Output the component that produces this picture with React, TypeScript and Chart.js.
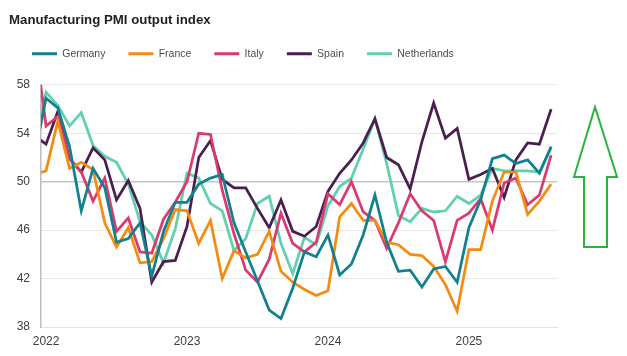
import React, { useEffect, useRef } from 'react';
import { Chart, registerables } from 'chart.js';

Chart.register(...registerables);

// Months: index 0 = Dec 2021 (partly outside the plot), then Jan 2022 ... Aug 2025
const monthLabels: string[] = [];
for (let i = 0; i < 45; i++) {
  const total = 2021 * 12 + 11 + i;
  monthLabels.push(`${Math.floor(total / 12)}-${String((total % 12) + 1).padStart(2, '0')}`);
}

const yearTickMonths = [0, 12, 24, 36];
const yearTickLabels = ['2022', '2023', '2024', '2025'];
const yTickValues = [38, 42, 46, 50, 54, 58];

const germany = [52.0, 56.9, 56.1, 52.9, 47.6, 51.1, 49.5, 45.0, 45.3, 46.6, 42.2, 45.9, 48.3, 48.3, 49.8, 50.3, 50.6, 46.6, 44.2, 41.8, 39.4, 38.7, 41.2, 44.2, 43.8, 45.6, 42.3, 43.2, 45.6, 48.9, 45.0, 42.6, 42.7, 41.3, 42.8, 43.0, 41.7, 46.2, 48.5, 51.9, 52.2, 51.5, 51.8, 50.7, 52.9];
const france = [50.6, 50.9, 55.0, 51.1, 51.6, 51.0, 46.6, 44.6, 46.2, 43.3, 43.4, 45.3, 47.7, 47.6, 44.9, 46.8, 42.0, 44.3, 43.7, 44.0, 45.9, 42.6, 41.7, 41.1, 40.6, 41.0, 47.1, 48.2, 46.8, 46.8, 45.0, 44.8, 44.0, 43.9, 43.0, 41.5, 39.3, 44.4, 44.4, 48.4, 50.8, 50.8, 47.3, 48.4, 49.8];
const italy = [62.0, 54.6, 55.4, 51.9, 50.8, 48.4, 50.3, 45.9, 47.0, 44.2, 44.1, 46.9, 48.3, 50.0, 54.0, 53.9, 49.3, 45.7, 42.7, 41.7, 43.6, 47.4, 44.9, 44.2, 45.0, 49.0, 48.1, 50.0, 47.5, 46.8, 44.5, 46.6, 49.0, 47.6, 46.8, 43.4, 46.8, 47.4, 48.6, 46.0, 49.9, 50.3, 48.1, 48.9, 52.2];
const spain = [53.8, 53.1, 55.8, 51.9, 50.8, 52.8, 51.8, 48.5, 50.1, 47.8, 41.7, 43.4, 43.5, 46.3, 52.0, 53.4, 50.2, 49.5, 49.5, 47.8, 46.2, 48.5, 45.9, 45.5, 46.3, 49.2, 50.7, 51.8, 53.2, 55.2, 52.0, 51.4, 49.4, 53.3, 56.5, 53.6, 54.4, 50.2, 50.6, 51.1, 48.7, 51.8, 53.2, 53.1, 56.0];
const netherlands = [53.2, 57.4, 56.3, 54.6, 55.7, 53.0, 52.1, 51.6, 49.8, 46.7, 45.6, 43.3, 46.1, 50.7, 50.3, 48.2, 47.6, 44.3, 45.3, 48.2, 48.8, 44.9, 42.4, 45.4, 44.8, 48.0, 49.6, 50.3, 52.7, 55.2, 51.5, 47.2, 46.7, 47.8, 47.5, 47.6, 48.8, 48.2, 48.9, 51.1, 50.9, 50.9, 50.9, 50.8, 52.8];

const seriesNames = ['Germany', 'France', 'Italy', 'Spain', 'Netherlands'];
const seriesValues = [germany, france, italy, spain, netherlands];
const seriesColors = ['#12808f', '#f28c12', '#d93a6f', '#4a1f4f', '#62cfae'];

const FONT = '"Liberation Sans", Arial, Helvetica, sans-serif';

export default function App() {
  const canvasRef = useRef<HTMLCanvasElement | null>(null);

  useEffect(() => {
    if (!canvasRef.current) return;
    const datasets = seriesNames.map((name, s) => ({
      label: name,
      data: seriesValues[s].map((v, i) => ({ x: i - 1, y: v })),
      borderColor: seriesColors[s],
      backgroundColor: seriesColors[s],
      borderWidth: 2.75,
      pointRadius: 0,
      pointHoverRadius: 0,
      tension: 0,
      fill: false,
    }));

    const chart = new Chart(canvasRef.current, {
      type: 'line',
      data: { labels: monthLabels, datasets },
      options: {
        animation: false,
        responsive: false,
        devicePixelRatio: 1,
        layout: { padding: { top: 0, left: 9, right: 70, bottom: 0 } },
        plugins: {
          tooltip: { enabled: false },
          title: {
            display: true,
            text: 'Manufacturing PMI output index',
            align: 'start',
            color: '#1f1f1f',
            font: { family: FONT, size: 13.25, weight: 'bold', lineHeight: 1.2 },
            padding: { top: 12, bottom: -2.3 },
          },
          legend: {
            display: true,
            position: 'top',
            align: 'start',
            labels: {
              boxWidth: 25,
              boxHeight: 3,
              padding: 23,
              color: '#4d4d4d',
              font: { family: FONT, size: 10.5 },
              generateLabels: (c: any) =>
                (Chart.defaults.plugins.legend.labels as any)
                  .generateLabels(c)
                  .map((l: any) => ({ ...l, lineWidth: 0, fillStyle: l.strokeStyle })),
            },
          },
          subtitle: {
            display: true,
            text: '',
            position: 'top',
            weight: 500,
            font: { size: 1, lineHeight: 1 },
            padding: { top: 14.75, bottom: 0 },
          } as any,
        },
        scales: {
          x: {
            type: 'linear',
            min: -0.43,
            max: 43.5,
            grid: { display: false, drawTicks: false },
            border: { display: true, color: '#e4e4e4', width: 1 },
            ticks: {
              padding: 7.5,
              color: '#404040',
              font: { family: FONT, size: 12 },
              maxRotation: 0,
              autoSkip: false,
              callback: (value: any) => {
                const k = yearTickMonths.indexOf(Number(value));
                return k >= 0 ? yearTickLabels[k] : '';
              },
            },
            afterBuildTicks: (scale: any) => {
              scale.ticks = yearTickMonths.map((v) => ({ value: v }));
            },
            afterFit: (scale: any) => {
              scale.height = 29;
            },
          },
          y: {
            type: 'linear',
            min: 38,
            max: 58,
            grid: {
              drawTicks: false,
              color: (ctx: any) => (ctx.tick && ctx.tick.value === 50 ? '#c6c6c6' : '#e8e8e8'),
              lineWidth: (ctx: any) => (ctx.tick && ctx.tick.value === 50 ? 1.5 : 1),
            },
            border: { display: true, color: '#bdbdbd', width: 1.5 },
            ticks: {
              padding: 11,
              color: '#404040',
              font: { family: FONT, size: 12 },
            },
            afterBuildTicks: (scale: any) => {
              scale.ticks = yTickValues.map((v) => ({ value: v }));
            },
            afterFit: (scale: any) => {
              scale.width = 32;
            },
          },
        },
      },
    } as any);

    return () => chart.destroy();
  }, []);

  return (
    <div style={{ position: 'fixed', left: 0, top: 0, width: 627, height: 356, background: '#ffffff' }}>
      <canvas ref={canvasRef} width={627} height={356} style={{ display: 'block' }} />
      <svg
        width={627}
        height={356}
        style={{ position: 'absolute', left: 0, top: 0, pointerEvents: 'none' }}
      >
        <polygon
          points="595,107 574,177 584,177 584,247 607,247 607,177 617,177"
          fill="none"
          stroke="#2bb33c"
          strokeWidth={2}
        />
      </svg>
    </div>
  );
}
